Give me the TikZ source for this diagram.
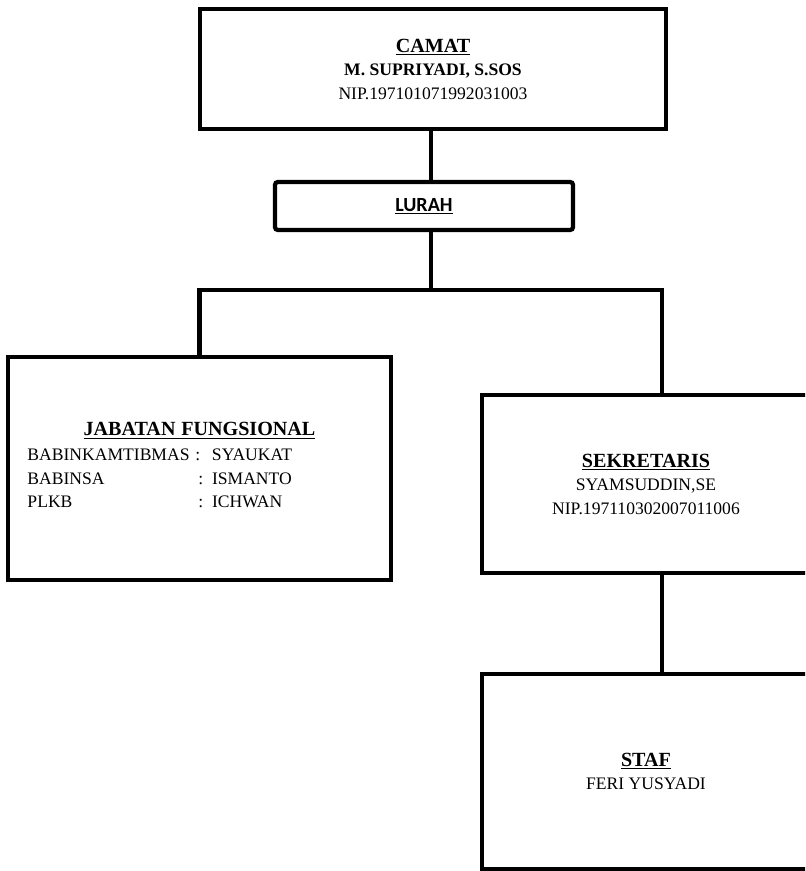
\documentclass[tikz,border=0pt]{standalone}
\usepackage{fontspec}
\setmainfont{Liberation Serif}
\newfontfamily\lurahfont{Carlito}
\usepackage{tikz}

\newcommand{\jobtitle}[1]{{\fontsize{14.3}{16.7}\selectfont\textbf{\underline{#1}}}}

\tikzset{
    jobbox/.style={draw, line width=3pt, align=center, inner sep=0pt,
        font=\fontsize{12.5}{16.7}\selectfont},
    joblink/.style={line width=3pt}
}

\begin{document}
\begin{tikzpicture}[x=0.25mm, y=-0.25mm]
    % page frame
    \useasboundingbox (0,0) rectangle (805,871);
    \clip (0,0) rectangle (805,871);

    % draw boxes
    \node[jobbox, minimum width=116.5mm, minimum height=30mm] (camat) at (433,69)
        {\jobtitle{CAMAT}\\ \textbf{M. SUPRIYADI, S.SOS}\\ NIP.197101071992031003};
    \node[jobbox, rounded corners=2pt, minimum width=74.5mm, minimum height=12mm,
        font=\lurahfont\fontsize{14.3}{16}\selectfont] (lurah) at (424,206)
        {\textbf{\underline{LURAH}}};
    \node[jobbox, minimum width=95.75mm, minimum height=55.75mm, text width=86mm,
        align=left] (fungsional) at (199.5,468.5)
        {{\centering\jobtitle{JABATAN FUNGSIONAL}\par}\vspace{3pt}
         \begin{tabular}{@{}l@{\ }l@{}}
         BABINKAMTIBMAS & :\ \ SYAUKAT\\
         BABINSA & \,: ISMANTO\\
         PLKB & \,: ICHWAN
         \end{tabular}\par\vspace*{-2mm}};
    \node[jobbox, minimum width=82mm, minimum height=44.5mm] (sekretaris) at (646,484)
        {\jobtitle{SEKRETARIS}\\ SYAMSUDDIN,SE\\ NIP.197110302007011006};
    \node[jobbox, minimum width=82mm, minimum height=48.75mm] (staf) at (646,771.5)
        {\jobtitle{STAF}\\ FERI YUSYADI};

    % draw branch points
    \coordinate (bar) at (431,290);
    \coordinate (drop) at (662,290);

    % draw links
    \draw[joblink] (camat.south -| bar) -- (lurah.north -| bar);
    \draw[joblink] (lurah.south -| bar) -- (bar);
    \draw[joblink] (fungsional.north) |- (drop) -- (sekretaris.north -| drop);
    \draw[joblink] (sekretaris.south -| drop) -- (staf.north -| drop);

\end{tikzpicture}
\end{document}
